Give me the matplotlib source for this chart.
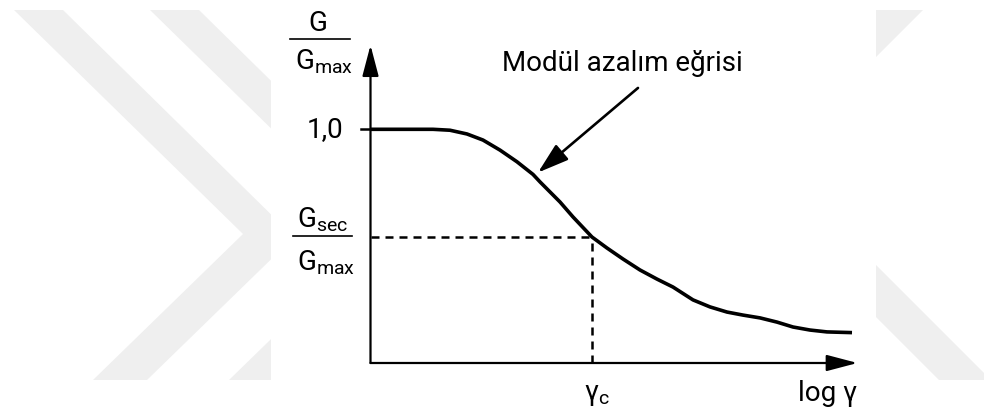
import matplotlib.pyplot as plt
from matplotlib.patches import Polygon, Rectangle

plt.rcParams['font.family'] = ['Roboto', 'DejaVu Sans']
plt.rcParams['mathtext.fontset'] = 'custom'
plt.rcParams['mathtext.rm'] = 'Roboto'

# modulus reduction curve: x = log(gamma) (arbitrary units), y = G/Gmax
log_gamma = [0.0, 0.295, 0.625, 0.795, 0.965, 1.125, 1.295, 1.465, 1.625,
             1.695, 1.795, 1.895, 2.025, 2.215, 2.365, 2.525, 2.695, 2.865,
             3.025, 3.225, 3.395, 3.565, 3.725, 3.895, 4.065, 4.225, 4.395,
             4.565, 4.815]
g_ratio = [1.0, 1.0, 1.0, 0.996, 0.980, 0.954, 0.911, 0.861, 0.807,
           0.775, 0.732, 0.689, 0.625, 0.539, 0.492, 0.445, 0.398, 0.359,
           0.325, 0.270, 0.240, 0.218, 0.205, 0.193, 0.175, 0.154, 0.141,
           0.133, 0.130]

gamma_c = 2.215
g_sec = 0.539
x_end = 4.87
y_end = 1.36

fig = plt.figure(figsize=(9.84, 4.16), dpi=100)

# faint chevron watermark behind the drawing
bg = fig.add_axes([0, 0, 1, 1], zorder=0)
bg.set_xlim(0, 984)
bg.set_ylim(416, 0)
bg.axis('off')
wm = '#efefef'
chev = [(14, 10), (63, 10), (294, 237), (147, 380), (93, 380), (243, 234)]
for dx in (0, 136):
    bg.add_patch(Polygon([(x + dx, y) for x, y in chev], closed=True,
                         fc=wm, ec='none'))
bg.add_patch(Polygon([(873, 10), (923, 10), (772, 161), (991, 380),
                      (939, 380), (721, 162)], closed=True, fc=wm, ec='none'))
bg.add_patch(Rectangle((271, 0), 605, 416, fc='white', ec='none'))

ax = fig.add_axes([0, 0, 1, 1], zorder=1)
ax.patch.set_alpha(0)
ax.set_xlim(-3.705, 6.135)
ax.set_ylim(-0.2268, 1.5533)
ax.axis('off')

# axes with arrow heads
axis_arrow = dict(arrowstyle='-|>,head_length=1.9,head_width=0.5',
                  lw=1.6, color='black', shrinkA=0, shrinkB=0,
                  mutation_scale=10)
ax.annotate('', xy=(0, y_end), xytext=(0, 0), arrowprops=axis_arrow)
ax.annotate('', xy=(x_end, 0), xytext=(0, 0), arrowprops=axis_arrow)

# tick at 1.0
ax.plot([-0.1, 0], [1.0, 1.0], color='black', lw=1.8)

ax.plot(log_gamma, g_ratio, color='black', lw=2.6, solid_capstyle='butt',
        solid_joinstyle='round')

ax.plot([0, gamma_c], [g_sec, g_sec], color='black', lw=1.8,
        dashes=(3.2, 2.4))
ax.plot([gamma_c, gamma_c], [0, g_sec], color='black', lw=1.8,
        dashes=(3.2, 2.4))

fs = 20
ax.text(-0.275, 1.0, '1,0', fontsize=fs, ha='right', va='center')

# G / Gmax
ax.text(-0.525, 1.42, 'G', fontsize=fs, ha='center', va='baseline')
ax.plot([-0.805, -0.205], [1.386, 1.386], color='black', lw=1.2)
ax.text(-0.755, 1.257, r'G$_{\mathrm{max}}$', fontsize=fs, ha='left',
        va='baseline')

# Gsec / Gmax
ax.text(-0.735, 0.58, r'G$_{\mathrm{sec}}$', fontsize=fs, ha='left',
        va='baseline')
ax.plot([-0.775, -0.185], [0.545, 0.545], color='black', lw=1.2)
ax.text(-0.735, 0.398, r'G$_{\mathrm{max}}$', fontsize=fs, ha='left',
        va='baseline')

ax.text(gamma_c + 0.05, -0.16, r'γ$_{\mathrm{c}}$', fontsize=fs,
        ha='center', va='baseline')
ax.text(4.275, -0.164, 'log γ', fontsize=fs, ha='left', va='baseline')

ax.text(2.52, 1.25, 'Modül azalım eğrisi', fontsize=fs, ha='center',
        va='baseline')
ax.annotate('', xy=(1.675, 0.815), xytext=(2.675, 1.177),
            arrowprops=dict(arrowstyle='-|>,head_length=1.9,head_width=0.6',
                            lw=1.9, color='black', shrinkA=0, shrinkB=0,
                            mutation_scale=10))

fig.savefig('out.png', dpi=100)
